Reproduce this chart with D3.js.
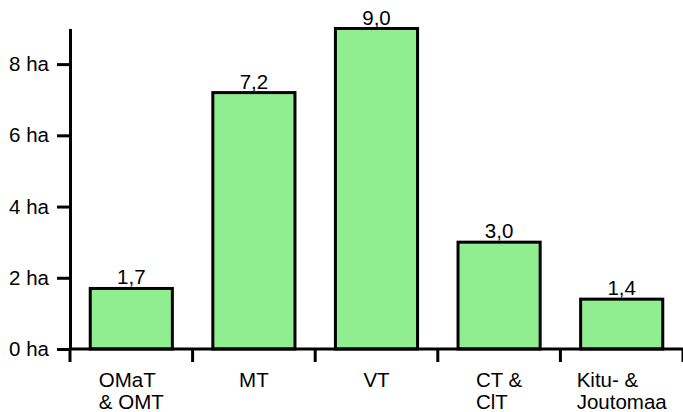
<!DOCTYPE html>
<html>
<head>
<meta charset="utf-8">
<script src="https://cdn.jsdelivr.net/npm/d3@7"></script>
<style>
    body { margin: 0; background: #fff; }
    svg { display: block; font-family: "Liberation Sans", Arial, sans-serif; }
</style>
</head>
<body>
<svg id="chart" width="683" height="412"></svg>
<script>
const categories = [["OMaT", "& OMT"], ["MT"], ["VT"], ["CT &", "ClT"], ["Kitu- &", "Joutomaa"]];
const values = [1.7, 7.2, 9.0, 3.0, 1.4];
const yTicks = [0, 2, 4, 6, 8];

const svg = d3.select("#chart");
const fontSize = 20.5;
const tickLen = 13;
const pad = 0.33;

const x = d3.scaleBand()
    .domain(d3.range(values.length))
    .range([70, 683])
    .paddingInner(pad)
    .paddingOuter(pad / 2);

const y = d3.scaleLinear()
    .domain([0, 9])
    .range([349, 28.5]);

// bars
svg.selectAll(".bar")
    .data(values)
    .enter()
    .append("rect")
    .attr("class", "bar")
    .attr("x", (d, i) => x(i))
    .attr("y", d => y(d))
    .attr("width", x.bandwidth())
    .attr("height", d => y(0) - y(d))
    .style("fill", "#90ee90")
    .style("stroke", "#000")
    .style("stroke-width", 3);

// value labels
svg.selectAll(".val")
    .data(values)
    .enter()
    .append("text")
    .attr("class", "val")
    .attr("x", (d, i) => x(i) + x.bandwidth() / 2)
    .attr("y", d => y(d) - 4)
    .attr("text-anchor", "middle")
    .style("font-size", fontSize + "px")
    .text(d => d.toFixed(1).replace(".", ","));

// y axis
const yAxis = d3.axisLeft(y)
    .tickValues(yTicks)
    .tickSize(tickLen)
    .tickSizeOuter(0)
    .tickPadding(8)
    .tickFormat(d => d + " ha");
const gy = svg.append("g")
    .attr("transform", "translate(70,0)")
    .call(yAxis);
gy.selectAll("path, line").style("stroke", "#000").style("stroke-width", 3);
gy.selectAll("text")
    .style("font-size", fontSize + "px")
    .style("font-family", "'Liberation Sans', Arial, sans-serif")
    .style("fill", "#000");

// x axis: line with ticks at band boundaries
const half = x.step() * pad / 2;
const bounds = d3.range(values.length + 1).map(i => i < values.length ? x(i) - half : x(i - 1) + x.bandwidth() + half);
const gx = svg.append("g");
gx.append("line")
    .attr("x1", x.range()[0])
    .attr("x2", x.range()[1])
    .attr("y1", y(0))
    .attr("y2", y(0));
gx.selectAll(".xtick")
    .data(bounds)
    .enter()
    .append("line")
    .attr("class", "xtick")
    .attr("x1", d => d)
    .attr("x2", d => d)
    .attr("y1", y(0))
    .attr("y2", y(0) + tickLen);
gx.selectAll("line").style("stroke", "#000").style("stroke-width", 3);

// category labels, lines left-aligned, block centered
categories.forEach((lines, i) => {
    const cx = x(i) + x.bandwidth() / 2;
    const t = gx.append("text").style("font-size", fontSize + "px");
    const spans = lines.map((s, j) => t.append("tspan")
        .attr("y", 387 + j * 22)
        .text(s));
    const w = d3.max(spans, s => s.node().getComputedTextLength());
    spans.forEach(s => s.attr("x", cx - w / 2));
});
</script>
</body>
</html>
